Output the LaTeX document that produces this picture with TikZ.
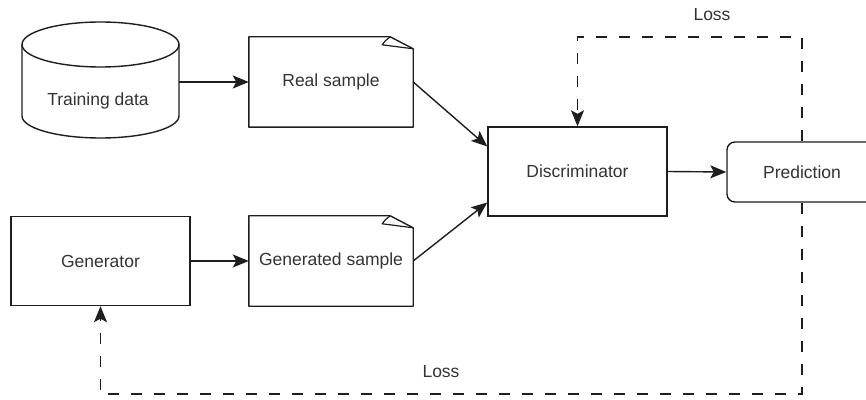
\documentclass[tikz,border=0pt]{standalone}
\usepackage{fontspec}
\setmainfont{Liberation Sans}
\usetikzlibrary{arrows.meta,calc}
\definecolor{ink}{HTML}{1E1E1E}
\definecolor{txt}{HTML}{333333}
\tikzset{
  every node/.style={font=\fontsize{17.5}{20}\selectfont, text=txt},
  box/.style={draw=ink, line width=1.4pt, fill=white, minimum width=179pt, minimum height=89pt, inner sep=0pt},
  sheet/.style={minimum width=164pt, minimum height=90pt, inner sep=0pt},
  conn/.style={draw=ink, line width=1.4pt, -{Stealth[length=16pt,width=13pt,inset=3.5pt]}},
  lossline/.style={conn, dash pattern=on 11pt off 12pt},
}
\begin{document}
\begin{tikzpicture}[x=1pt,y=1pt]
\useasboundingbox (0,0) rectangle (866,399);
\clip (0,0) rectangle (866,399);

% storage cylinder for the training data
\draw[ink, line width=1.4pt, fill=white]
  (22,354.5) -- (22,283) arc[start angle=180,end angle=360,x radius=78.5,y radius=22] -- (179,354.5);
\draw[ink, line width=1.4pt, fill=white] (100.5,354.5) ellipse[x radius=78.5, y radius=22.5];
\node[minimum width=157pt, minimum height=116pt, inner sep=0pt] (data) at (100.5,319) {};
\node (datatext) at (98,298) {Training data};

% sample sheets with a curled top-right corner
\node[sheet] (real) at (331,317) {Real sample};
\node[sheet] (gens) at (331,138) {Generated sample};
\foreach \n in {real,gens} {
  \draw[ink, line width=1.4pt, line join=round]
    (\n.south west) -- (\n.north west) -- ($(\n.north east)+(-23,0)$)
    -- ($(\n.north east)+(0,-12)$) -- (\n.south east) -- cycle;
  \draw[ink, line width=1.2pt, line join=round]
    ($(\n.north east)+(-23,0)$) .. controls ($(\n.north east)+(-28,-4)$) .. ($(\n.north east)+(-31,-8)$)
    -- ($(\n.north east)+(0,-12)$);
}

% process boxes
\node[box] (gen) at (100.5,138) {Generator};
\node[box] (disc) at (577.5,227.5) {Discriminator};
\node[box, rounded corners=8pt, minimum width=150pt, minimum height=60pt] (pred) at (802,227) {Prediction};

% data flow
\draw[conn] (data.east |- real.west) -- (real.west);
\draw[conn] (gen.east) -- (gens.west);
\draw[conn] (real.east) -- ($(disc.west)+(0,25)$);
\draw[conn] (gens.east) -- ($(disc.west)+(0,-31)$);
\draw[conn] (disc.east) -- (pred.west);

% loss feedback
\coordinate (topright) at (pred.north |- 0,362);
\coordinate (botright) at (pred.south |- 0,5);
\draw[lossline] (pred.north) -- (topright) -| (disc.north);
\draw[lossline] (pred.south) -- (botright) -| (gen.south);
\node (losstop) at (712,384) {Loss};
\node (lossbot) at (441,27) {Loss};
\end{tikzpicture}
\end{document}
